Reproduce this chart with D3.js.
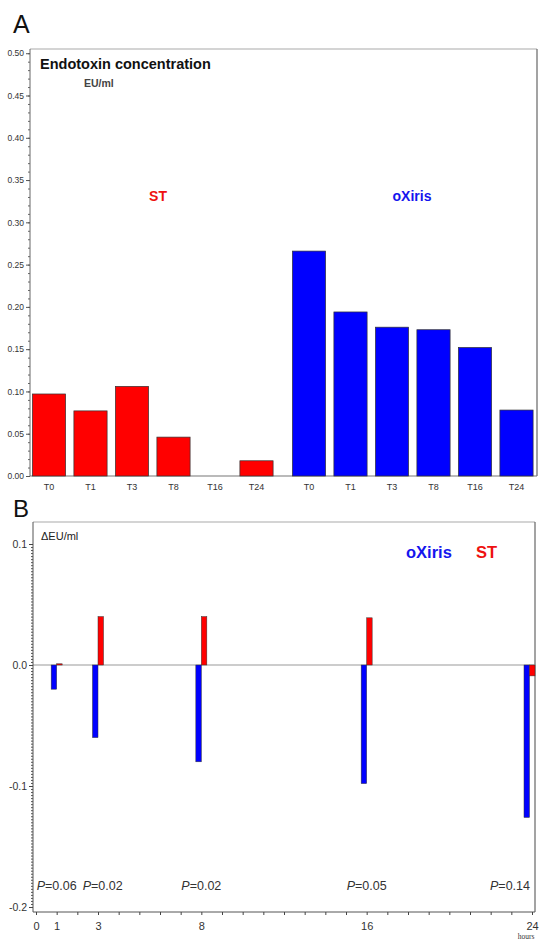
<!DOCTYPE html>
<html><head><meta charset="utf-8">
<script src="https://cdn.jsdelivr.net/npm/d3@7"></script>
<style>html,body{margin:0;padding:0;background:#fff;}svg{display:block;font-family:"Liberation Sans",Arial,sans-serif;}</style>
</head><body>
<script>
// ---- Data ----
const timeLabels = ["T0","T1","T3","T8","T16","T24"];
const stValues = [0.097, 0.077, 0.106, 0.046, 0.0, 0.018];
const oxirisValues = [0.266, 0.194, 0.176, 0.173, 0.152, 0.078];
const yTicksA = [0.00,0.05,0.10,0.15,0.20,0.25,0.30,0.35,0.40,0.45,0.50];

const hours = [1, 3, 8, 16, 24];
const deltaOxiris = [-0.020, -0.060, -0.080, -0.098, -0.126];
const deltaST = [0.001, 0.040, 0.040, 0.039, -0.009];
const pValues = ["0.06", "0.02", "0.02", "0.05", "0.14"];
const xTickLabelsB = [0, 1, 3, 8, 16, 24];
const yTicksB = [0.1, 0.0, -0.1, -0.2];

const W = 541, H = 941;
const svg = d3.select("body").append("svg").attr("width", W).attr("height", H);
const RED = "#ff0000", BLUE = "#0000ff", TXT = "#222";

// ================= Panel A =================
const A = {left: 30, right: 537, top: 49, bottom: 476};
const yA = d3.scaleLinear().domain([0, 0.505]).range([A.bottom, A.top]);
const xRed = d3.scaleBand().domain(timeLabels).range([28.25, 277.25]).paddingInner(0.2).paddingOuter(0.1);
const xBlue = d3.scaleBand().domain(timeLabels).range([288.25, 537.25]).paddingInner(0.2).paddingOuter(0.1);

svg.append("text").attr("x", 13).attr("y", 33).attr("font-size", 25).attr("fill", "#111").text("A");

// frame
svg.append("line").attr("x1", A.left).attr("x2", A.right).attr("y1", A.top).attr("y2", A.top).attr("stroke", "#aaa").attr("stroke-width", 1.2);
svg.append("line").attr("x1", A.right).attr("x2", A.right).attr("y1", A.top).attr("y2", A.bottom).attr("stroke", "#666").attr("stroke-width", 1.2);
svg.append("line").attr("x1", A.left).attr("x2", A.right).attr("y1", A.bottom).attr("y2", A.bottom).attr("stroke", "#777").attr("stroke-width", 1.2);

// y axis with minor ticks
const gA = svg.append("g").attr("transform", `translate(${A.left},0)`);
gA.append("g").call(d3.axisLeft(yA).tickValues(d3.range(0, 0.5001, 0.01)).tickSize(2).tickFormat(""))
  .call(g => g.select(".domain").remove())
  .call(g => g.selectAll("line").attr("stroke", "#666"));
gA.append("g").call(d3.axisLeft(yA).tickValues(yTicksA).tickSize(4).tickPadding(2).tickFormat(d3.format(".2f")))
  .call(g => g.select(".domain").attr("stroke", "#666").attr("d", `M0,${A.top}V${A.bottom}`))
  .call(g => g.selectAll("line").attr("stroke", "#555"))
  .call(g => g.selectAll("text").attr("font-size", 8.5).attr("fill", "#333").attr("font-family", "Liberation Sans, Arial, sans-serif"));

// bars
svg.append("g").selectAll("rect").data(stValues).join("rect")
  .attr("x", (d, i) => xRed(timeLabels[i])).attr("width", xRed.bandwidth())
  .attr("y", d => yA(d)).attr("height", d => yA(0) - yA(d))
  .attr("fill", RED).attr("stroke", "#333").attr("stroke-width", 0.7);
svg.append("g").selectAll("rect").data(oxirisValues).join("rect")
  .attr("x", (d, i) => xBlue(timeLabels[i])).attr("width", xBlue.bandwidth())
  .attr("y", d => yA(d)).attr("height", d => yA(0) - yA(d))
  .attr("fill", BLUE).attr("stroke", "#333").attr("stroke-width", 0.7);

// x labels
[xRed, xBlue].forEach(sc => {
  svg.append("g").selectAll("text").data(timeLabels).join("text")
    .attr("x", d => sc(d) + sc.bandwidth() / 2).attr("y", 490)
    .attr("text-anchor", "middle").attr("font-size", 9).attr("fill", "#333").text(d => d);
});

svg.append("text").attr("x", 40).attr("y", 69).attr("font-size", 14.5).attr("font-weight", "bold").attr("fill", "#111").text("Endotoxin concentration");
svg.append("text").attr("x", 84).attr("y", 87).attr("font-size", 10.5).attr("font-weight", "bold").attr("fill", "#444").text("EU/ml");
svg.append("text").attr("x", 158).attr("y", 201).attr("text-anchor", "middle").attr("font-size", 14).attr("font-weight", "bold").attr("fill", "#ee1111").text("ST");
svg.append("text").attr("x", 412).attr("y", 201).attr("text-anchor", "middle").attr("font-size", 14).attr("font-weight", "bold").attr("fill", "#1515ee").text("oXiris");

// ================= Panel B =================
const B = {left: 33, right: 535, top: 522, bottom: 912};
const xB = d3.scaleLinear().domain([0, 24]).range([36, 532]);
const yB = d3.scaleLinear().domain([-0.2, 0.1]).range([907, 544]);

svg.append("text").attr("x", 13).attr("y", 517).attr("font-size", 24).attr("fill", "#111").text("B");

svg.append("line").attr("x1", B.left).attr("x2", B.right).attr("y1", B.top).attr("y2", B.top).attr("stroke", "#aaa").attr("stroke-width", 1.2);
svg.append("line").attr("x1", B.right).attr("x2", B.right).attr("y1", B.top).attr("y2", B.bottom).attr("stroke", "#666").attr("stroke-width", 1.2);
// zero line
svg.append("line").attr("x1", B.left).attr("x2", B.right).attr("y1", yB(0)).attr("y2", yB(0)).attr("stroke", "#999").attr("stroke-width", 1.2);

const gB = svg.append("g").attr("transform", `translate(${B.left},0)`);
gB.append("g").call(d3.axisLeft(yB).tickValues(d3.range(-0.2, 0.1001, 0.0025)).tickSize(2).tickFormat(""))
  .call(g => g.select(".domain").remove())
  .call(g => g.selectAll("line").attr("stroke", "#555"));
const fmtB = d => d3.format(".1f")(d).replace("\u2212", "-");
gB.append("g").call(d3.axisLeft(yB).tickValues(yTicksB).tickSize(4).tickPadding(2).tickFormat(fmtB))
  .call(g => g.select(".domain").attr("stroke", "#555").attr("d", `M0,${B.top}V${B.bottom}`))
  .call(g => g.selectAll("line").attr("stroke", "#444"))
  .call(g => g.selectAll("text").attr("font-size", 10.5).attr("fill", "#333").attr("font-family", "Liberation Sans, Arial, sans-serif"));

// x axis
const gBx = svg.append("g").attr("transform", `translate(0,${B.bottom})`);
gBx.append("g").call(d3.axisBottom(xB).tickValues(d3.range(0, 25, 1)).tickSize(3).tickFormat(""))
  .call(g => g.select(".domain").attr("stroke", "#555").attr("d", `M${B.left},0H${B.right}`))
  .call(g => g.selectAll("line").attr("stroke", "#444"));
gBx.append("g").call(d3.axisBottom(xB).tickValues(xTickLabelsB).tickSize(0).tickPadding(10).tickFormat(d3.format("d")))
  .call(g => g.select(".domain").remove())
  .call(g => g.selectAll("text").attr("font-size", 11).attr("fill", "#333").attr("font-family", "Liberation Sans, Arial, sans-serif"));
svg.append("text").attr("x", 526).attr("y", 939).attr("text-anchor", "middle").attr("font-size", 7.5)
  .attr("font-family", "Liberation Serif, serif").attr("fill", "#333").text("hours");

// bars B
const bw = 5.5;
const barX = h => Math.min(xB(h), B.right - bw);
svg.append("g").selectAll("rect").data(deltaOxiris).join("rect")
  .attr("x", (d, i) => barX(hours[i]) - bw).attr("width", bw)
  .attr("y", d => yB(Math.max(0, d))).attr("height", d => Math.abs(yB(d) - yB(0)))
  .attr("fill", BLUE).attr("stroke", "#333").attr("stroke-width", 0.5);
svg.append("g").selectAll("rect").data(deltaST).join("rect")
  .attr("x", (d, i) => barX(hours[i])).attr("width", bw)
  .attr("y", d => yB(Math.max(0, d))).attr("height", d => Math.max(1, Math.abs(yB(d) - yB(0))))
  .attr("fill", RED).attr("stroke", "#333").attr("stroke-width", 0.5);

// legend
svg.append("text").attr("x", 406).attr("y", 558).attr("font-size", 16.5).attr("font-weight", "bold").attr("fill", "#1515ee").text("oXiris");
svg.append("text").attr("x", 476).attr("y", 558).attr("font-size", 16.5).attr("font-weight", "bold").attr("fill", "#ee1111").text("ST");
svg.append("text").attr("x", 41).attr("y", 540).attr("font-size", 11).attr("fill", "#222").text("\u0394EU/ml");

// P-values, laid out left to right without overlap
const pG = svg.append("g");
let prevEnd = -Infinity;
pValues.forEach((p, i) => {
  const t = pG.append("text").attr("y", 890).attr("font-size", 12.5).attr("fill", "#333");
  t.append("tspan").attr("font-style", "italic").text("P");
  t.append("tspan").text("=" + p);
  const w = t.node().getComputedTextLength();
  let x = xB(hours[i]) - w / 2;
  x = Math.max(x, prevEnd + 6);
  x = Math.min(x, B.right - 5 - w);
  t.attr("x", x);
  prevEnd = x + w;
});
</script>
</body></html>
